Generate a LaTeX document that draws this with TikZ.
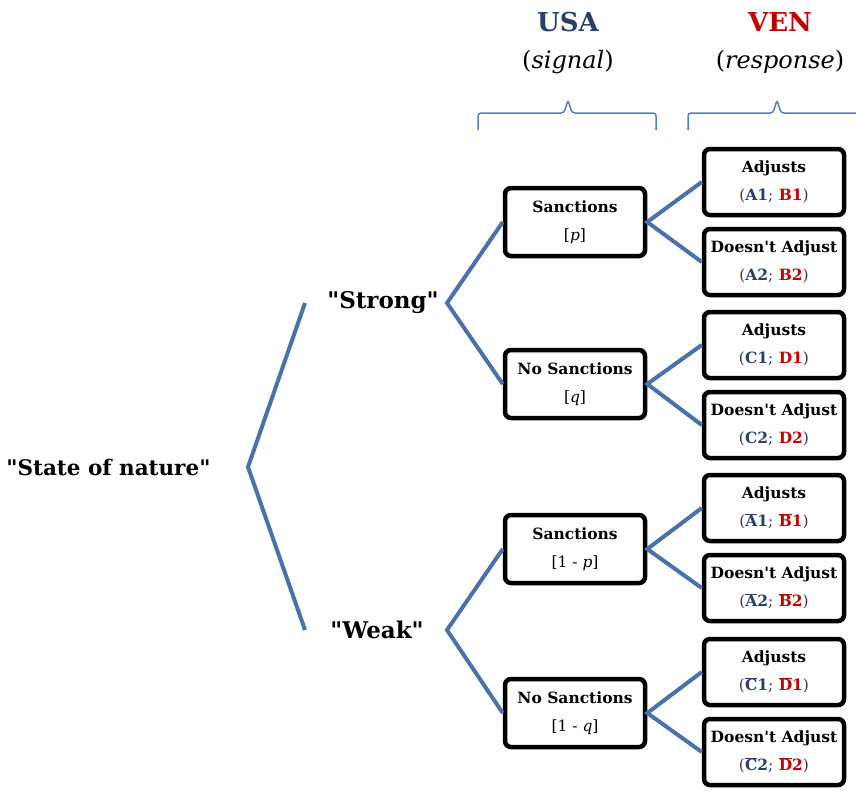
\documentclass[tikz,border=0pt]{standalone}
\usepackage{fontspec}
\setmainfont{DejaVu Serif}
\usetikzlibrary{positioning,calc}
\definecolor{treeblue}{RGB}{74,114,170}
\definecolor{usablue}{RGB}{38,64,104}
\definecolor{venred}{RGB}{192,0,0}
\definecolor{braceblue}{RGB}{79,129,189}
\definecolor{parengray}{RGB}{60,60,60}
\newcommand{\pa}[1]{\textcolor{usablue}{#1}}
\newcommand{\pb}[1]{\textcolor{venred}{#1}}
\newcommand{\ovl}[1]{$\overline{\hbox{#1}}$}
\newcommand{\pay}[2]{{\mdseries\color{parengray}(}#1{\mdseries\color{parengray};} #2{\mdseries\color{parengray})}}
\newcommand{\dadj}{Doesn\textquotesingle t Adjust}
\newcommand{\qq}[1]{\textquotedbl#1\textquotedbl}
\begin{document}
\begin{tikzpicture}[x=1pt,y=-1pt,
    branch/.style={treeblue,line width=4pt},
    bracket/.style={braceblue,line width=1.5pt,rounded corners=3pt},
    decbox/.style={draw,line width=4.5pt,rounded corners=6pt,minimum width=140pt,
                   minimum height=68pt,align=center,inner sep=0pt,
                   font=\fontsize{15.5}{28}\selectfont\bfseries},
    respbox/.style={decbox,minimum height=66pt},
    player/.style={font=\fontsize{21.5}{21.5}\selectfont\bfseries}]
%
  \useasboundingbox (0,0) rectangle (856,790);
%
  % headers
  \node (usa) [font=\fontsize{26}{26}\selectfont\bfseries,text=usablue] at (568,22) {USA};
  \node (usasig) [font=\fontsize{24}{24}\selectfont] at (568,62) {(\textit{signal})};
  \node (ven) [font=\fontsize{26}{26}\selectfont\bfseries,text=venred] at (780,22) {VEN};
  \node (venresp) [font=\fontsize{24}{24}\selectfont] at (780,62) {(\textit{response})};
%
  \draw [bracket] (478,130) -- (478,113) -- (564,113) -- (568,100) -- (572,113) -- (656,113) -- (656,130);
  \draw [bracket] (688,130) -- (688,113) -- (773,113) -- (777,100) -- (781,113) -- (862,113) -- (862,130);
%
  % nature
  \node (nature) [player,anchor=east] at (214,467) {\qq{State of nature}};
  \coordinate (nroot) at (248,467);
  \coordinate (nstrong) at (305,303);
  \coordinate (nweak) at (305,630);
  \node (strong) [player,font=\fontsize{23}{23}\selectfont\bfseries] at (383,303) {\qq{Strong}};
  \node (weak) [player,font=\fontsize{23}{23}\selectfont\bfseries] at (377,630) {\qq{Weak}};
  \coordinate (bstrong) at (447,303);
  \coordinate (bweak) at (447,630);
%
  % USA signal
  \node (ss) [decbox] at (575,222) {Sanctions\\{\mdseries[\textit{p}]}};
  \node (sn) [decbox] at (575,384) {No Sanctions\\{\mdseries[\textit{q}]}};
  \node (ws) [decbox] at (575,549) {Sanctions\\{\mdseries[1 - \textit{p}]}};
  \node (wn) [decbox] at (575,713) {No Sanctions\\{\mdseries[1 - \textit{q}]}};
%
  % VEN response
  \node (ssa) [respbox] at (774,182) {Adjusts\\\pay{\pa{A1}}{\pb{B1}}};
  \node (ssd) [respbox] at (774,262) {\dadj\\\pay{\pa{A2}}{\pb{B2}}};
  \node (sna) [respbox] at (774,345) {Adjusts\\\pay{\pa{C1}}{\pb{D1}}};
  \node (snd) [respbox] at (774,425) {\dadj\\\pay{\pa{C2}}{\pb{D2}}};
  \node (wsa) [respbox] at (774,508) {Adjusts\\\pay{\pa{\ovl{A}1}}{\pb{\ovl{B}1}}};
  \node (wsd) [respbox] at (774,588) {\dadj\\\pay{\pa{\ovl{A}2}}{\pb{\ovl{B}2}}};
  \node (wna) [respbox] at (774,672) {Adjusts\\\pay{\pa{\ovl{C}1}}{\pb{\ovl{D}1}}};
  \node (wnd) [respbox] at (774,752) {\dadj\\\pay{\pa{\ovl{C}2}}{\pb{\ovl{D}2}}};
%
  % branches
  \draw [branch] (nstrong) -- (nroot) -- (nweak);
  \draw [branch] (ss.west) -- (bstrong) -- (sn.west);
  \draw [branch] (ws.west) -- (bweak) -- (wn.west);
%
  \draw [branch] (ssa.west) -- (ss.east) -- (ssd.west);
  \draw [branch] (sna.west) -- (sn.east) -- (snd.west);
  \draw [branch] (wsa.west) -- (ws.east) -- (wsd.west);
  \draw [branch] (wna.west) -- (wn.east) -- (wnd.west);
%
\end{tikzpicture}
\end{document}
